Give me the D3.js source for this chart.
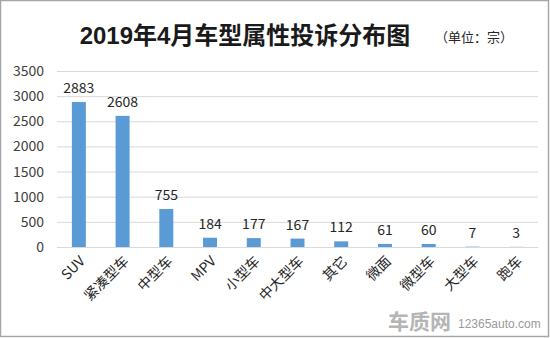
<!DOCTYPE html>
<html><head><meta charset="utf-8">
<script src="https://cdn.jsdelivr.net/npm/d3@7"></script>
<style>body{margin:0;background:#fff}svg{display:block}</style>
</head><body><svg id="c" width="550" height="338"></svg>
<script>
const categories = ["SUV","紧凑型车","中型车","MPV","小型车","中大型车","其它","微面","微型车","大型车","跑车"];
const values = [2883,2608,755,184,177,167,112,61,60,7,3];
const yTicks = [0,500,1000,1500,2000,2500,3000,3500];
const title = "2019年4月车型属性投诉分布图";
const unit = "（单位：宗）";

const svg = d3.select("#c");
const W = 550, H = 338;
const m = {l:57, r:12, t:71, b:91};
const x = d3.scaleBand().domain(categories).range([m.l, W - m.r]).paddingInner(0.68).paddingOuter(0.34);
const y = d3.scaleLinear().domain([0,3500]).range([H - m.b, m.t]);
const font = "'Noto Sans CJK SC','Noto Sans',sans-serif";

svg.append("rect").attr("x",0.5).attr("y",0.5).attr("width",W-2).attr("height",H-2)
  .attr("fill","#fff").attr("stroke","#a6a6a6").attr("stroke-width",1.5);

// grid
const ya = d3.axisLeft(y).tickValues(yTicks).tickFormat(d3.format("d")).tickSize(-(W - m.r - m.l)).tickPadding(13);
const gy = svg.append("g").attr("transform",`translate(${m.l},0)`).call(ya);
gy.select(".domain").remove();
gy.selectAll(".tick line").attr("stroke","#d9d9d9").attr("stroke-width",1);
gy.selectAll(".tick text").attr("font-family",font).attr("font-size",14).attr("fill","#404040");

// bars
svg.append("g").selectAll("rect").data(values).join("rect")
  .attr("x",(d,i)=>x(categories[i])).attr("width",x.bandwidth())
  .attr("y",d=>y(d)).attr("height",d=>y(0)-y(d)).attr("fill","#5b9bd5");

// value labels
svg.append("g").selectAll("text").data(values).join("text")
  .attr("x",(d,i)=>x(categories[i])+x.bandwidth()/2)
  .attr("y",d=>y(d)-9)
  .attr("text-anchor","middle").attr("font-family",font).attr("font-size",14).attr("fill","#262626")
  .text(d=>d);

// x axis labels
const xa = d3.axisBottom(x).tickSize(0).tickPadding(0);
const gx = svg.append("g").attr("transform",`translate(0,${H - m.b})`).call(xa);
gx.select(".domain").remove();
gx.selectAll(".tick text").attr("font-family",font).attr("font-size",14).attr("fill","#262626")
  .attr("text-anchor","end").attr("dy",0)
  .attr("transform","translate(7,15) rotate(-45)");

// title
svg.append("text").attr("x",245).attr("y",44).attr("text-anchor","middle")
  .attr("font-family","'Liberation Sans','Noto Sans CJK SC',sans-serif").attr("font-weight","bold")
  .attr("font-size",24).attr("fill","#1a1a1a").text(title);
svg.append("text").attr("x",474).attr("y",42).attr("text-anchor","middle")
  .attr("font-family",font).attr("font-size",13).attr("fill","#262626").text(unit);

// watermark
svg.append("text").attr("x",388).attr("y",329).attr("font-family",font).attr("font-weight","bold")
  .attr("font-size",21).attr("fill","#b5b5b5").text("车质网");
svg.append("text").attr("x",458).attr("y",328).attr("font-family","'Liberation Sans',sans-serif")
  .attr("font-size",12).attr("fill","#9a9a9a").text("12365auto.com");
</script></body></html>
